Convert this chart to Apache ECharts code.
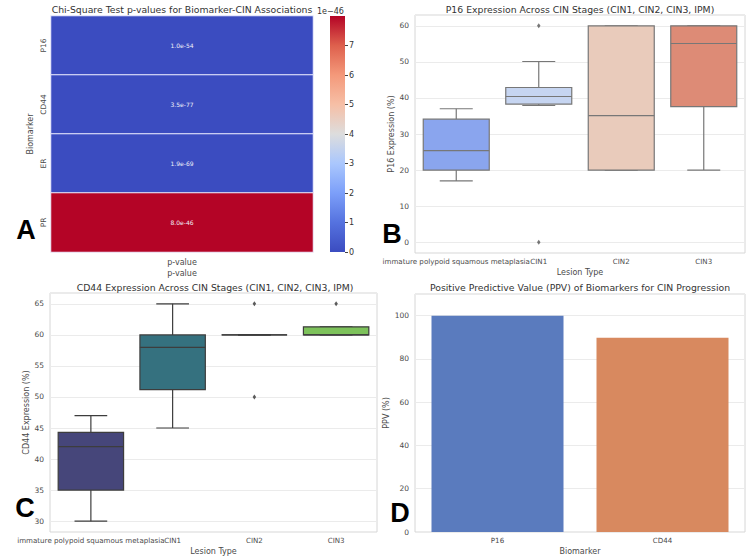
<!DOCTYPE html>
<html>
<head>
<meta charset="utf-8">
<script src="https://cdn.jsdelivr.net/npm/echarts@6/dist/echarts.min.js"></script>
<style>
html, body { margin: 0; padding: 0; background: #fff; }
#chart { width: 750px; height: 558px; }
</style>
</head>
<body>
<div id="chart"></div>
<script>
// A: chi-square p-values
var heatRows = ['P16', 'CD44', 'ER', 'PR'];
var heatCols = ['p-value'];
var heatValues = [1.0e-54, 3.5e-77, 1.9e-69, 8.0e-46];
var heatScale = 1e-46;
var colorbarTicks = [0, 1, 2, 3, 4, 5, 6, 7];

// B / C: lesion types and box stats [min, q1, median, q3, max]
var lesionTypes = ['immature polypoid squamous metaplasia', 'CIN1', 'CIN2', 'CIN3'];
var p16Boxes = [
	[17, 20, 25.4, 34.1, 37],
	[37.9, 38.3, 40.4, 42.9, 50.1],
	[20, 20, 35.1, 60, 60],
	[20, 37.6, 55.1, 60, 60]
];
var p16Outliers = [[1, 60], [1, 0]];
var cd44Boxes = [
	[30, 35, 42, 44.3, 47],
	[45, 51.2, 58, 60, 65],
	[60, 60, 60, 60, 60],
	[60, 60, 60, 61.3, 61.3]
];
var cd44Outliers = [[2, 65], [2, 50], [3, 65]];

// D: PPV
var ppvMarkers = ['P16', 'CD44'];
var ppvValues = [100, 89.8];

var font = 'DejaVu Sans';
var coolwarm = ['#3b4cc0', '#5572df', '#7c9ff9', '#aac7fd', '#dddddd', '#f6bfa6', '#f4997a', '#de604d', '#b40426'];
var p16Colors = ['#8aa5ee', '#c6d5f1', '#e9cbbb', '#dd8b76'];
var cd44Colors = ['#46467a', '#35717f', '#3f9e7c', '#7dc25b'];
var ppvColors = ['#5a7bbe', '#d8895f'];
var tickStyle = { fontSize: 7.5, color: '#4a4a4a', fontFamily: font };
var catTickStyle = { fontSize: 7.1, color: '#4a4a4a', fontFamily: font };
var nameStyle = { fontSize: 8, color: '#4a4a4a', fontFamily: font };

function makeBox(lineColor, fills) {
	return function (params, api) {
		var cat = api.value(0);
		var lo = api.coord([cat, api.value(1)]);
		var q1 = api.coord([cat, api.value(2)]);
		var md = api.coord([cat, api.value(3)]);
		var q3 = api.coord([cat, api.value(4)]);
		var hi = api.coord([cat, api.value(5)]);
		var bw = api.size([1, 0])[0] * 0.8;
		var cx = md[0];
		var st = { stroke: lineColor, lineWidth: 1.2, fill: null };
		return {
			type: 'group',
			children: [
				{ type: 'line', shape: { x1: cx, y1: q1[1], x2: cx, y2: lo[1] }, style: st },
				{ type: 'line', shape: { x1: cx, y1: q3[1], x2: cx, y2: hi[1] }, style: st },
				{ type: 'line', shape: { x1: cx - bw / 4, y1: lo[1], x2: cx + bw / 4, y2: lo[1] }, style: st },
				{ type: 'line', shape: { x1: cx - bw / 4, y1: hi[1], x2: cx + bw / 4, y2: hi[1] }, style: st },
				{ type: 'rect', shape: { x: cx - bw / 2, y: q3[1], width: bw, height: q1[1] - q3[1] },
					style: { fill: fills[params.dataIndex], stroke: lineColor, lineWidth: 1.2 } },
				{ type: 'line', shape: { x1: cx - bw / 2, y1: md[1], x2: cx + bw / 2, y2: md[1] }, style: st }
			]
		};
	};
}

function boxData(boxes) {
	return boxes.map(function (b, i) { return [i].concat(b); });
}

function textItem(text, x, y, opts) {
	return {
		type: 'text', x: x, y: y, silent: true,
		style: Object.assign({ text: text, fill: '#333', fontSize: 9.3, fontFamily: font,
			align: 'center', verticalAlign: 'middle' }, opts || {})
	};
}

var catAxisBase = {
	type: 'category',
	axisLine: { show: false },
	axisTick: { show: false },
	splitLine: { show: false },
	nameLocation: 'middle',
	nameTextStyle: nameStyle
};
var valAxisBase = {
	type: 'value',
	axisLine: { show: false },
	axisTick: { show: false },
	splitLine: { show: true, lineStyle: { color: '#ebebeb', width: 1 } },
	axisLabel: Object.assign({ showMinLabel: false, showMaxLabel: false, margin: 6 }, tickStyle),
	nameLocation: 'middle',
	nameTextStyle: nameStyle
};
var frame = { show: true, borderColor: '#d6d6d6', borderWidth: 1, backgroundColor: '#fff' };

var chart = echarts.init(document.getElementById('chart'), null, { renderer: 'svg' });

chart.setOption({
	backgroundColor: '#fff',
	animation: false,
	grid: [
		{ left: 51, top: 16, width: 262, height: 236 },
		{ left: 330, top: 16, width: 15, height: 236 },
		Object.assign({ left: 415, top: 15, width: 330, height: 238 }, frame),
		Object.assign({ left: 50, top: 293, width: 327, height: 239 }, frame),
		Object.assign({ left: 415, top: 294, width: 330, height: 238 }, frame)
	],
	xAxis: [
		Object.assign({}, catAxisBase, { gridIndex: 0, data: heatCols, name: 'p-value', nameGap: 17,
			axisLabel: Object.assign({ margin: 6 }, nameStyle) }),
		Object.assign({}, catAxisBase, { gridIndex: 1, data: [''], axisLabel: { show: false } }),
		Object.assign({}, catAxisBase, { gridIndex: 2, data: lesionTypes, name: 'Lesion Type', nameGap: 15,
			axisLabel: Object.assign({ interval: 0, margin: 5 }, catTickStyle) }),
		Object.assign({}, catAxisBase, { gridIndex: 3, data: lesionTypes, name: 'Lesion Type', nameGap: 15,
			axisLabel: Object.assign({ interval: 0, margin: 5 }, catTickStyle) }),
		Object.assign({}, catAxisBase, { gridIndex: 4, data: ppvMarkers, name: 'Biomarker', nameGap: 15,
			axisLabel: Object.assign({ interval: 0, margin: 5 }, catTickStyle) })
	],
	yAxis: [
		Object.assign({}, catAxisBase, { gridIndex: 0, data: heatRows, inverse: true, name: 'Biomarker', nameGap: 17,
			axisLabel: Object.assign({ rotate: 90, margin: 4 }, tickStyle) }),
		{ type: 'value', gridIndex: 1, position: 'right', min: 0, max: 8,
			axisLine: { show: false }, splitLine: { show: false },
			axisTick: { show: true, length: 3, lineStyle: { color: '#444' }, customValues: colorbarTicks },
			axisLabel: Object.assign({ margin: 4, customValues: colorbarTicks }, tickStyle, { fontSize: 8, color: '#333' }) },
		Object.assign({}, valAxisBase, { gridIndex: 2, min: -3, max: 63, minInterval: 10, maxInterval: 10,
			name: 'P16 Expression (%)', nameGap: 16 }),
		Object.assign({}, valAxisBase, { gridIndex: 3, min: 28.25, max: 66.75, minInterval: 5, maxInterval: 5,
			name: 'CD44 Expression (%)', nameGap: 16 }),
		Object.assign({}, valAxisBase, { gridIndex: 4, min: 0, max: 110, interval: 20,
			name: 'PPV (%)', nameGap: 20,
			axisLabel: Object.assign({ showMinLabel: true, showMaxLabel: false, margin: 6 }, tickStyle) })
	],
	visualMap: {
		show: false, type: 'continuous', seriesIndex: 0, min: 0, max: 8,
		inRange: { color: coolwarm }
	},
	series: [
		{
			type: 'heatmap', xAxisIndex: 0, yAxisIndex: 0,
			data: heatValues.map(function (v, i) { return [0, i, v / heatScale]; }),
			itemStyle: { borderColor: '#eeeeff', borderWidth: 1 },
			label: {
				show: true, fontSize: 6, color: '#f0f0f8', fontFamily: font,
				formatter: function (p) { return heatValues[p.dataIndex].toExponential(1); }
			}
		},
		{
			type: 'bar', xAxisIndex: 1, yAxisIndex: 1, barWidth: '100%',
			data: [8],
			itemStyle: {
				color: {
					type: 'linear', x: 0, y: 1, x2: 0, y2: 0,
					colorStops: coolwarm.map(function (c, i) { return { offset: i / (coolwarm.length - 1), color: c }; })
				}
			}
		},
		{
			type: 'custom', xAxisIndex: 2, yAxisIndex: 2,
			renderItem: makeBox('#777777', p16Colors),
			encode: { x: 0, y: [1, 2, 3, 4, 5] },
			data: boxData(p16Boxes)
		},
		{
			type: 'scatter', xAxisIndex: 2, yAxisIndex: 2, symbol: 'diamond', symbolSize: [3.5, 5],
			itemStyle: { color: '#555' }, data: p16Outliers
		},
		{
			type: 'custom', xAxisIndex: 3, yAxisIndex: 3,
			renderItem: makeBox('#3d3d3d', cd44Colors),
			encode: { x: 0, y: [1, 2, 3, 4, 5] },
			data: boxData(cd44Boxes)
		},
		{
			type: 'scatter', xAxisIndex: 3, yAxisIndex: 3, symbol: 'diamond', symbolSize: [3.5, 5],
			itemStyle: { color: '#333' }, data: cd44Outliers
		},
		{
			type: 'bar', xAxisIndex: 4, yAxisIndex: 4, barWidth: '80%',
			data: ppvValues.map(function (v, i) { return { value: v, itemStyle: { color: ppvColors[i] } }; })
		}
	],
	graphic: [
		textItem('Chi-Square Test p-values for Biomarker-CIN Associations', 182, 9),
		textItem('1e\u221246', 317, 11, { align: 'left', fontSize: 8 }),
		textItem('P16 Expression Across CIN Stages (CIN1, CIN2, CIN3, IPM)', 580, 9),
		textItem('CD44 Expression Across CIN Stages (CIN1, CIN2, CIN3, IPM)', 215, 287),
		textItem('Positive Predictive Value (PPV) of Biomarkers for CIN Progression', 580, 287),
		textItem('A', 26, 230, { fontSize: 27, fontWeight: 'bold', fill: '#000', fontFamily: 'Liberation Sans' }),
		textItem('B', 392, 234, { fontSize: 27, fontWeight: 'bold', fill: '#000', fontFamily: 'Liberation Sans' }),
		textItem('C', 25, 508, { fontSize: 27, fontWeight: 'bold', fill: '#000', fontFamily: 'Liberation Sans' }),
		textItem('D', 400, 513, { fontSize: 27, fontWeight: 'bold', fill: '#000', fontFamily: 'Liberation Sans' })
	]
});
</script>
</body>
</html>
